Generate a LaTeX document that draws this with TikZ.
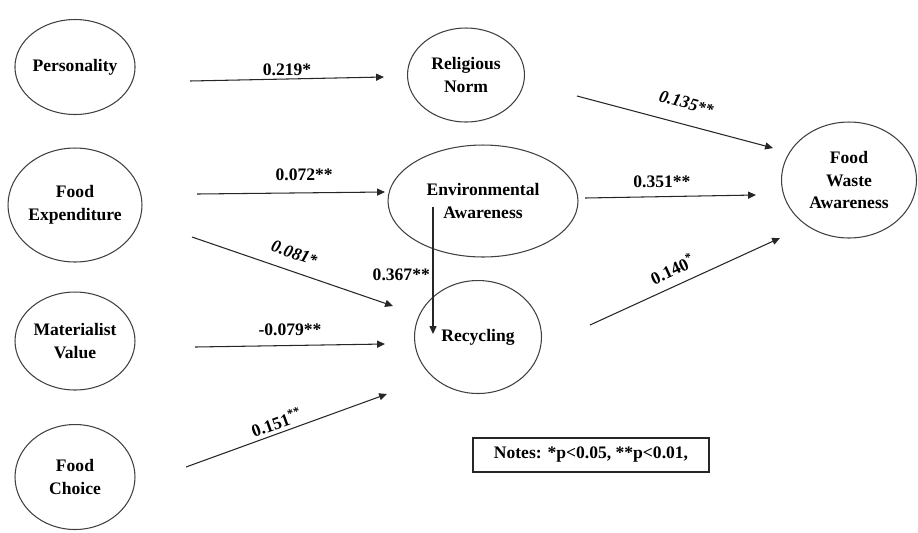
\documentclass[tikz,border=0pt]{standalone}
\usepackage{fontspec}
\setmainfont{Liberation Serif}
\usetikzlibrary{arrows.meta,shapes.geometric}

\begin{document}
\begin{tikzpicture}[x=0.02cm,y=-0.02cm,
  construct/.style={ellipse,draw=black!75,line width=0.6pt,inner sep=0pt,align=center,font=\fontsize{10}{13}\selectfont\bfseries},
  effect/.style={-{Triangle[length=4.5pt,width=4pt]},line width=0.6pt,draw=black!85},
  coef/.style={font=\fontsize{10}{12}\selectfont\bfseries,inner sep=0pt},
  note/.style={rectangle,draw=black!85,line width=0.7pt,minimum width=4.72cm,minimum height=0.68cm,font=\fontsize{10}{12}\selectfont\bfseries}]
\useasboundingbox (0,0) rectangle (918,532);
% constructs
\node[construct,minimum width=2.4cm,minimum height=1.9cm] (personality) at (75,67) {Personality};
\node[construct,minimum width=2.68cm,minimum height=2.28cm] (foodexp) at (75,205) {Food\\Expenditure};
\node[construct,minimum width=2.4cm,minimum height=1.96cm] (materialist) at (75,341) {Materialist\\Value};
\node[construct,minimum width=2.4cm,minimum height=2.1cm] (foodchoice) at (75,477) {Food\\Choice};
\node[construct,minimum width=2.34cm,minimum height=1.88cm] (religious) at (466,75) {Religious\\Norm};
\node[construct,minimum width=3.8cm,minimum height=2.24cm] (envaware) at (483,201) {Environmental\\Awareness};
\node[construct,minimum width=2.54cm,minimum height=2.26cm] (recycling) at (478,337) {Recycling};
\node[construct,minimum width=2.7cm,minimum height=2.32cm] (fwa) at (849,180) {Food\\Waste\\Awareness};
\node[note] (notes) at (591,455) {Notes: *p<0.05, **p<0.01,};
% path ends
\coordinate (pers-out) at (190,81);
\coordinate (rel-in) at (384,77);
\coordinate (exp-out) at (197,194);
\coordinate (env-in) at (385,192);
\coordinate (exp-out2) at (192,237);
\coordinate (rec-in) at (393,306);
\coordinate (mat-out) at (195,347);
\coordinate (rec-in2) at (385,344);
\coordinate (cho-out) at (186,467);
\coordinate (rec-in3) at (387,394);
\coordinate (rel-out) at (577,96);
\coordinate (fwa-in) at (773,148);
\coordinate (env-out) at (585,198);
\coordinate (fwa-in2) at (756,195);
\coordinate (rec-out) at (590,325);
\coordinate (fwa-in3) at (780,238);
\coordinate (env-down) at (433,207);
\coordinate (rec-top) at (433,334);
% paths
\draw[effect] (pers-out) -- node[coef,above=1.5pt] {0.219*} (rel-in);
\draw[effect] (exp-out) -- node[coef,pos=0.57,above=6.5pt] {0.072**} (env-in);
\draw[effect] (exp-out2) -- node[coef,pos=0.48,sloped,above=6.5pt] {\itshape 0.081{\small *}} (rec-in);
\draw[effect] (mat-out) -- node[coef,above=5pt] {-0.079**} (rec-in2);
\draw[effect] (cho-out) -- node[coef,pos=0.47,sloped,above=2pt] {0.151\textsuperscript{**}} (rec-in3);
\draw[effect] (rel-out) -- node[coef,pos=0.53,sloped,above=8.5pt] {\itshape 0.135{\small **}} (fwa-in);
\draw[effect] (env-out) -- node[coef,pos=0.45,above=4.5pt] {0.351**} (fwa-in2);
\draw[effect] (rec-out) -- node[coef,pos=0.47,sloped,above=5pt] {0.140\textsuperscript{*}} (fwa-in3);
\draw[effect] (env-down) -- node[coef,pos=0.53,left=1.5pt] {0.367**} (rec-top);
\end{tikzpicture}
\end{document}
